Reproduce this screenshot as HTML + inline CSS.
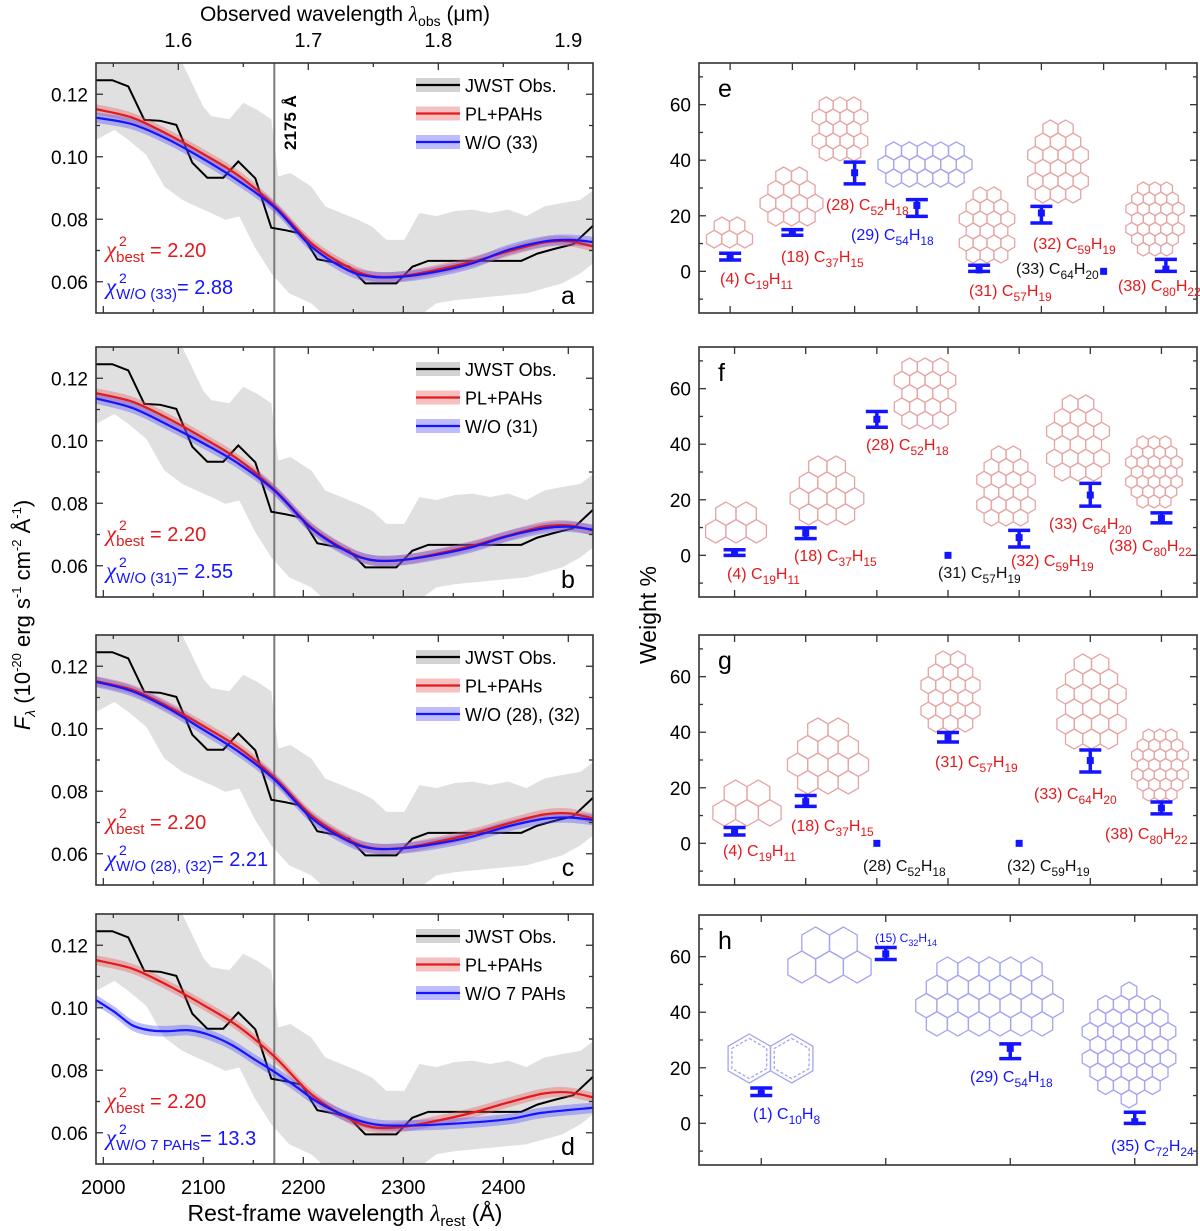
<!DOCTYPE html>
<html><head><meta charset="utf-8">
<style>
html,body{margin:0;padding:0;background:#fff;}
svg{display:block;font-family:"Liberation Sans",Arial,sans-serif;}
</style></head>
<body>
<svg id="fig" width="1200" height="1231" viewBox="0 0 1200 1231" xmlns="http://www.w3.org/2000/svg">
<text x="345" y="21" font-size="21" text-anchor="middle">Observed wavelength <tspan font-style="italic" font-family="Liberation Serif">λ</tspan><tspan font-size="14" dy="5">obs</tspan><tspan dy="-5"> (μm)</tspan></text>
<text x="345" y="1221" font-size="23" text-anchor="middle">Rest-frame wavelength <tspan font-style="italic" font-family="Liberation Serif">λ</tspan><tspan font-size="15" dy="5">rest</tspan><tspan dy="-5"> (Å)</tspan></text>
<text transform="translate(30,615) rotate(-90)" font-size="22" text-anchor="middle"><tspan font-style="italic">F</tspan><tspan font-size="14" dy="5" font-style="italic">λ</tspan><tspan dy="-5"> (10</tspan><tspan font-size="13" dy="-9">-20</tspan><tspan dy="9"> erg s</tspan><tspan font-size="13" dy="-9">-1</tspan><tspan dy="9"> cm</tspan><tspan font-size="13" dy="-9">-2</tspan><tspan dy="9"> Å</tspan><tspan font-size="13" dy="-9">-1</tspan><tspan dy="9">)</tspan></text>
<text transform="translate(656,615) rotate(-90)" font-size="23" text-anchor="middle">Weight %</text>
</svg>
<script>
// ---------- Spectrum data ----------
const obsLam = [1993,2009,2025,2041,2057,2073,2089,2104,2120,2135,2152,2168,2182,2198,2214,2232,2246,2262,2293,2309,2325,2418,2434,2452,2470,2490];
const obsFlux = [0.1245,0.1245,0.1225,0.1118,0.1115,0.1102,0.0981,0.0933,0.0933,0.0985,0.0931,0.0773,0.0765,0.0754,0.0672,0.0661,0.0648,0.0595,0.0595,0.0648,0.0667,0.0667,0.069,0.0706,0.072,0.078];
const bandUpLam = [1993,2079,2100,2108,2126,2140,2154,2168,2175,2187,2208,2222,2255,2269,2283,2301,2316,2333,2351,2369,2387,2405,2423,2441,2459,2477,2490];
const bandUp = [0.131,0.13,0.116,0.113,0.112,0.1173,0.115,0.112,0.0937,0.0948,0.0905,0.0841,0.0798,0.0776,0.0734,0.0734,0.082,0.081,0.0826,0.0831,0.082,0.0831,0.081,0.0841,0.0852,0.0862,0.0893];
const bandLoLam = [1993,2011,2025,2043,2061,2079,2093,2108,2122,2136,2151,2168,2186,2208,2222,2316,2333,2351,2387,2423,2459,2477,2490];
const bandLo = [0.1054,0.1086,0.1054,0.1006,0.0905,0.0862,0.0841,0.082,0.0798,0.0809,0.0713,0.0627,0.0563,0.0531,0.049,0.049,0.0531,0.0541,0.0552,0.0563,0.0595,0.0627,0.0659];
const modelLam = [1993,2029,2065,2101,2136,2172,2208,2244,2269,2298,2333,2369,2405,2441,2466,2490];
const redFlux = [0.1152,0.1125,0.1071,0.1007,0.0938,0.0841,0.0723,0.0648,0.0618,0.0618,0.0638,0.0664,0.0697,0.0726,0.0729,0.0713];
const blueA = [0.1125,0.1104,0.1055,0.0991,0.0921,0.0836,0.0713,0.0638,0.0616,0.0616,0.0632,0.0659,0.0702,0.0729,0.0734,0.0727];
const blueB = [0.1135,0.1105,0.105,0.099,0.0925,0.0838,0.072,0.0645,0.0618,0.0618,0.0635,0.066,0.0695,0.072,0.0725,0.0715];
const blueC = [0.115,0.112,0.1065,0.0995,0.0925,0.0835,0.0715,0.0642,0.0617,0.0617,0.0632,0.0655,0.0688,0.0712,0.0716,0.0708];
const blueDLam = [1993,2011,2029,2046,2064,2086,2107,2129,2150,2171,2193,2214,2243,2271,2300,2350,2404,2439,2490];
const blueD = [0.1024,0.0987,0.0944,0.0928,0.0925,0.0928,0.0912,0.088,0.0837,0.0795,0.0747,0.0699,0.0653,0.0627,0.0623,0.0629,0.0643,0.0664,0.068];
const redErr = 0.0016, blueErr = 0.0017;
const leftLetters = ["a","b","c","d"];
const legendBlue = ["W/O (33)","W/O (31)","W/O (28), (32)","W/O 7 PAHs"];
const chiBlueSub = ["W/O (33)","W/O (31)","W/O (28), (32)","W/O 7 PAHs"];
const chiBlueVal = ["= 2.88","= 2.55","= 2.21","= 13.3"];
const yTicks = [0.06,0.08,0.10,0.12];
const xTicks = [2000,2100,2200,2300,2400];
const topTicks = [1.6,1.7,1.8,1.9];

// ---------- Weight data ----------
const catsE = ["4","18","28","29","31","32","33","38"];
const valE = [5.3,14,35.5,23.7,0.5,21,0,0.8];
const loE = [4.1,13,31.5,19.8,0,17.4,null,0];
const hiE = [6.5,15,39.3,25.8,2.2,23.4,null,4.3];
const catsF = ["4","18","28","31","32","33","38"];
const valF = [1,8,49,0,6.4,21.7,13.3];
const loF = [0,6,46.1,null,3,17.7,11.7];
const hiF = [2,9.9,51.8,null,9,25.9,15.3];
const catsG = ["4","18","28","31","32","33","38"];
const valG = [4,15,0,38.2,0,29.8,12.7];
const loG = [3,13.3,null,36.5,null,25.7,10.6];
const hiG = [5.7,17.2,null,39.9,null,33.6,14.9];
const catsH = ["1","15","29","35"];
const valH = [10.8,61,27,0.6];
const loH = [10,59,23.3,0];
const hiH = [12.7,63.3,28.6,4];
const wTicks = [0,20,40,60];

const NS = "http://www.w3.org/2000/svg";
const svg = document.getElementById("fig");
function mk(tag, attrs, parent){ const e=document.createElementNS(NS,tag); for(const k in attrs) e.setAttribute(k,attrs[k]); (parent||svg).appendChild(e); return e; }

const RED="#e3191c", BLUE="#1414ff", PINKBAND="rgba(232,90,90,0.38)", BLUEBAND="rgba(80,80,255,0.38)";
const tops=[63,347,635,914], PH=250, LX0=96, LX1=593, RX0=699, RX1=1197;
const xS = l => 103.3 + (l-2000);
const muS = m => 178.3 + (m-1.6)*1300;

function catmull(pts){
  let d="M"+pts[0][0]+","+pts[0][1];
  for(let i=0;i<pts.length-1;i++){
    const p0=pts[Math.max(0,i-1)],p1=pts[i],p2=pts[i+1],p3=pts[Math.min(pts.length-1,i+2)];
    const c1=[p1[0]+(p2[0]-p0[0])/6,p1[1]+(p2[1]-p0[1])/6], c2=[p2[0]-(p3[0]-p1[0])/6,p2[1]-(p3[1]-p1[1])/6];
    d+=" C"+c1[0]+","+c1[1]+" "+c2[0]+","+c2[1]+" "+p2[0]+","+p2[1];
  }
  return d;
}
function bandPath(lam, vals, err, yS){
  const up=lam.map((l,i)=>[xS(l),yS(vals[i]+err)]), dn=lam.map((l,i)=>[xS(l),yS(vals[i]-err)]).reverse();
  const dd=catmull(dn);
  return catmull(up)+" L"+dn[0][0]+","+dn[0][1]+dd.slice(dd.indexOf(" C"))+" Z";
}
function chiLabel(g,x,y,sub,val,color,name){
  const t=mk("text",{x:x,y:y,"font-size":20,fill:color},g);
  
  
  t.innerHTML='<tspan font-family="Liberation Serif" font-style="italic" font-size="23">χ</tspan><tspan font-size="15" dy="5">'+sub+'</tspan><tspan dy="-5">'+val+'</tspan>';
  const s=mk("text",{x:x+13,y:y-11,"font-size":14,fill:color},g);
  
  
  s.textContent="2";
}

// ---------- Left panels ----------
tops.forEach((top,p)=>{
  const yS = v => top + (0.13 - v)*3125;
  const g = mk("g",{});
  
  
  const cp = mk("clipPath",{id:"clipL"+p},g); mk("rect",{x:LX0,y:top,width:LX1-LX0,height:PH},cp);
  const plot = mk("g",{"clip-path":"url(#clipL"+p+")"},g);
  let d="M"+bandUpLam.map((l,i)=>xS(l)+","+yS(bandUp[i])).join(" L");
  for(let i=bandLoLam.length-1;i>=0;i--) d+=" L"+xS(bandLoLam[i])+","+yS(bandLo[i]);
  const band = mk("path",{d:d+" Z",fill:"#e0e0e0"},plot);
  
  
  const vl = mk("line",{x1:xS(2171),x2:xS(2171),y1:top,y2:top+PH,stroke:"#7a7a7a","stroke-width":2},plot);
  
  
  const ob = mk("path",{d:"M"+obsLam.map((l,i)=>xS(l)+","+yS(obsFlux[i])).join(" L"),fill:"none",stroke:"#000","stroke-width":2},plot);
  
  
  const bl = p===3?blueDLam:modelLam, bv=[blueA,blueB,blueC,blueD][p];
  const rb = mk("path",{d:bandPath(modelLam,redFlux,redErr,yS),fill:PINKBAND},plot);
  
  
  const bb = mk("path",{d:bandPath(bl,bv,blueErr,yS),fill:BLUEBAND},plot);
  
  
  const rl = mk("path",{d:catmull(modelLam.map((l,i)=>[xS(l),yS(redFlux[i])])),fill:"none",stroke:RED,"stroke-width":2.2},plot);
  
  
  const blL = mk("path",{d:catmull(bl.map((l,i)=>[xS(l),yS(bv[i])])),fill:"none",stroke:BLUE,"stroke-width":2.2},plot);
  
  
  const fr = mk("rect",{x:LX0,y:top,width:LX1-LX0,height:PH,fill:"none",stroke:"#333","stroke-width":1.6},g);
  
  
  for(let v=0.05; v<=0.1301; v+=0.01){
    const vv=Math.round(v*100)/100, major = yTicks.some(t=>Math.abs(t-vv)<1e-6), L=major?7:4, y=yS(vv);
    if(y<top+1||y>top+PH-1) continue;
    mk("line",{x1:LX0,x2:LX0+L,y1:y,y2:y,stroke:"#333","stroke-width":1.3},g);
    mk("line",{x1:LX1,x2:LX1-L,y1:y,y2:y,stroke:"#333","stroke-width":1.3},g);
  }
  yTicks.forEach(t=>{
    const tl = mk("text",{x:88,y:yS(t)+7,"font-size":19,"text-anchor":"end"},g);
    
    
    tl.textContent=t.toFixed(2);
  });
  for(let l=2000;l<=2450;l+=50){
    const major=l%100===0, L=major?7:4;
    mk("line",{x1:xS(l),x2:xS(l),y1:top+PH,y2:top+PH-L,stroke:"#333","stroke-width":1.3},g);
  }
  for(let m=1.55;m<=1.901;m+=0.05){
    const mm=Math.round(m*100)/100, major=topTicks.some(t=>Math.abs(t-mm)<1e-6), L=major?7:4;
    mk("line",{x1:muS(mm),x2:muS(mm),y1:top,y2:top+L,stroke:"#333","stroke-width":1.3},g);
  }
  if(p===3){
    xTicks.forEach(t=>{
      const tl = mk("text",{x:xS(t),y:1194,"font-size":20,"text-anchor":"middle"},g);
      
      
      tl.textContent=t;
    });
  }
  if(p===0){
    topTicks.forEach(t=>{
      const tl = mk("text",{x:muS(t),y:47,"font-size":20,"text-anchor":"middle"},g);
      
      
      tl.textContent=t.toFixed(1);
    });
    const t2175 = mk("text",{transform:"translate(296,150) rotate(-90)","font-size":17,"font-weight":"bold"},g);
    
    
    t2175.textContent="2175 Å";
  }
  const items=[["JWST Obs.","#000","rgba(200,200,200,0.8)"],["PL+PAHs",RED,PINKBAND],[legendBlue[p],BLUE,BLUEBAND]];
  items.forEach((it,i)=>{
    const y=top+22+i*28.5;
    const lg = mk("g",{},g);
    
    
    mk("rect",{x:416,y:y-7,width:44,height:14,fill:it[2]},lg);
    mk("line",{x1:416,x2:460,y1:y,y2:y,stroke:it[1],"stroke-width":2.2},lg);
    const tx=mk("text",{x:465,y:y+7,"font-size":18},lg); tx.textContent=it[0];
  });
  chiLabel(g,106,top+194,"best"," = 2.20",RED,'chi2-best-label');
  chiLabel(g,106,top+231,chiBlueSub[p],chiBlueVal[p],BLUE,'chi2-without-label');
  const lt = mk("text",{x:568,y:top+241,"font-size":25,"text-anchor":"middle"},g);
  
  
  lt.textContent=leftLetters[p];
});

// ---------- Right panels ----------
const PINKHEX="#e6a4a4", BLUEHEX="#a4a4f0";
function hexCluster(parent,x0,y0,x1,y1,rows,color,naph){
  const s3=Math.sqrt(3), maxN=Math.max(...rows), k=rows.length;
  const R=Math.min((x1-x0)/(maxN*s3),(y1-y0)/(1.5*(k-1)+2)), w=s3*R;
  const cx=(x0+x1)/2, totalH=(1.5*(k-1)+2)*R, sy=(y0+y1)/2-totalH/2+R;
  const g=mk("g",{fill:"none",stroke:color,"stroke-width":1.3},parent);
  rows.forEach((n,i)=>{
    for(let j=0;j<n;j++){
      const hx=cx+(j-(n-1)/2)*w, hy=sy+i*1.5*R;
      const pts=[];for(let a=0;a<6;a++){const t=Math.PI/180*(60*a-90);pts.push((hx+R*Math.cos(t)).toFixed(1)+","+(hy+R*Math.sin(t)).toFixed(1));}
      mk("polygon",{points:pts.join(" ")},g);
      if(naph){const p2=[];for(let a=0;a<6;a++){const t=Math.PI/180*(60*a-90);p2.push((hx+0.82*R*Math.cos(t)).toFixed(1)+","+(hy+0.82*R*Math.sin(t)).toFixed(1));}
        mk("polygon",{points:p2.join(" "),"stroke-dasharray":"3,2"},g);}
    }
  });
  return g;
}
function label(parent,x,y,num,c,h,color,fs){
  fs=fs||16;
  const t=mk("text",{x:x,y:y+6,"font-size":fs,fill:color},parent);
  
  
  const sub=Math.round(fs*0.72), dd=Math.round(fs*0.3);
  t.innerHTML='('+num+') C<tspan font-size="'+sub+'" dy="'+dd+'">'+c+'</tspan><tspan dy="-'+dd+'">H</tspan><tspan font-size="'+sub+'" dy="'+dd+'">'+h+'</tspan>';
}
const R_="#e3191c",B_="#1414ff",K_="#111";
const rightPanels=[
 {letter:"e",top:63,cats:catsE,val:valE,lo:loE,hi:hiE,
  labels:[[720,278,"4","19","11",R_],[781,256,"18","37","15",R_],[826,204,"28","52","18",R_],[851,234,"29","54","18",B_],[969,290,"31","57","19",R_],[1033,243,"32","59","19",R_],[1016,268,"33","64","20",K_],[1118,285,"38","80","22",R_]],
  mols:[[704,217,755,248,[2,3],PINKHEX],[759,167,824,226,[2,3,4,3],PINKHEX],[807,97,873,161,[3,4,3,4,3],PINKHEX],[878,140,972,189,[5,6,5],BLUEHEX],[952,187,1022,263,[2,3,4,3,4,3],PINKHEX],[1020,120,1096,203,[2,3,4,3,4,3],PINKHEX],[1120,182,1190,256,[3,4,5,4,5,4,3],PINKHEX]]},
 {letter:"f",top:347,cats:catsF,val:valF,lo:loF,hi:hiF,
  labels:[[727,573,"4","19","11",R_],[794,555,"18","37","15",R_],[866,444,"28","52","18",R_],[938,572,"31","57","19",K_],[1011,560,"32","59","19",R_],[1049,523,"33","64","20",R_],[1109,545,"38","80","22",R_]],
  mols:[[704,502,768,543,[2,3],PINKHEX],[789,456,865,525,[2,3,4,3],PINKHEX],[890,358,960,429,[3,4,3,4,3],PINKHEX],[968,446,1044,526,[2,3,4,3,4,3],PINKHEX],[1043,395,1113,481,[2,3,4,3,4,3],PINKHEX],[1119,436,1189,508,[3,4,5,4,5,4,3],PINKHEX]]},
 {letter:"g",top:635,cats:catsG,val:valG,lo:loG,hi:hiG,
  labels:[[723,850,"4","19","11",R_],[791,825,"18","37","15",R_],[863,865,"28","52","18",K_],[935,761,"31","57","19",R_],[1007,865,"32","59","19",K_],[1034,793,"33","64","20",R_],[1105,833,"38","80","22",R_]],
  mols:[[712,780,782,826,[2,3],PINKHEX],[786,718,870,794,[2,3,4,3],PINKHEX],[911,651,990,732,[2,3,4,3,4,3],PINKHEX],[1052,654,1131,749,[2,3,4,3,4,3],PINKHEX],[1125,729,1195,801,[3,4,5,4,5,4,3],PINKHEX]]},
 {letter:"h",top:915,cats:catsH,val:valH,lo:loH,hi:hiH,
  labels:[[753,1113,"1","10","8",B_],[875,936,"15","32","14",B_,12],[970,1076,"29","54","18",B_],[1111,1145,"35","72","24",B_]],
  mols:[[725,1034,816,1083,[2],BLUEHEX,1],[786,927,873,983,[2,3],BLUEHEX],[915,957,1064,1036,[5,6,7,6],BLUEHEX],[1073,982,1185,1108,[1,4,5,6,5,6,5,4,1],BLUEHEX]]}
];
rightPanels.forEach(P=>{
  const top=P.top, n=P.cats.length, cw=(RX1-RX0)/n;
  const yS=v=>top+(75-v)*(PH/90);
  const xC=i=>RX0+cw*(i+0.5);
  const g=mk("g",{});
  
  
  mk("rect",{x:RX0,y:top,width:RX1-RX0,height:PH,fill:"#fff"},g);
  P.mols.forEach(m=>{
    const mg=hexCluster(g,m[0],m[1],m[2],m[3],m[4],m[5],m[6]);
    
    
  });
  const fr=mk("rect",{x:RX0,y:top,width:RX1-RX0,height:PH,fill:"none",stroke:"#333","stroke-width":1.6},g);
  
  
  for(let v=-10;v<=70;v+=10){
    const major=v%20===0, L=major?7:4, y=yS(v);
    mk("line",{x1:RX0,x2:RX0+L,y1:y,y2:y,stroke:"#333","stroke-width":1.3},g);
    mk("line",{x1:RX1,x2:RX1-L,y1:y,y2:y,stroke:"#333","stroke-width":1.3},g);
  }
  wTicks.forEach(t=>{
    const tl=mk("text",{x:691,y:yS(t)+7,"font-size":19,"text-anchor":"end"},g);
    
    
    tl.textContent=t;
  });
  P.cats.forEach((c,i)=>{
    mk("line",{x1:xC(i),x2:xC(i),y1:top+PH,y2:top+PH-7,stroke:"#333","stroke-width":1.3},g);
    mk("line",{x1:xC(i),x2:xC(i),y1:top,y2:top+7,stroke:"#333","stroke-width":1.3},g);
    const eg=mk("g",{fill:B_,stroke:B_},g);
    
    
    if(P.lo[i]!==null){
      const yl=yS(P.lo[i]), yh=yS(P.hi[i]);
      mk("line",{x1:xC(i),x2:xC(i),y1:yl,y2:yh,"stroke-width":3.5},eg);
      mk("line",{x1:xC(i)-11,x2:xC(i)+11,y1:yl,y2:yl,"stroke-width":3.5},eg);
      mk("line",{x1:xC(i)-11,x2:xC(i)+11,y1:yh,y2:yh,"stroke-width":3.5},eg);
    }
    mk("rect",{x:xC(i)-3.5,y:yS(P.val[i])-3.5,width:7,height:7,stroke:"none"},eg);
  });
  P.labels.forEach(l=>label(g,l[0],l[1],l[2],l[3],l[4],l[5],l[6]));
  const lt=mk("text",{x:718,y:top+34,"font-size":25},g);
  
  
  lt.textContent=P.letter;
});
</script>
</body></html>
